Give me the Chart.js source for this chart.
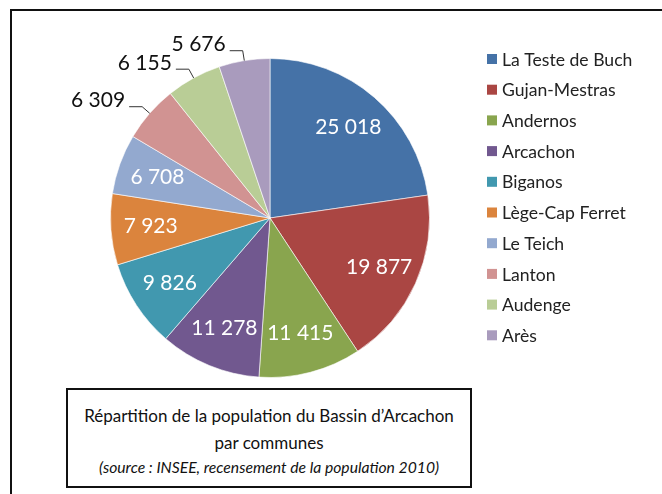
<!DOCTYPE html>
<html>
<head>
<meta charset="utf-8">
<script src="https://cdn.jsdelivr.net/npm/chart.js@4"></script>
<style>
  html, body { margin: 0; padding: 0; background: #fff; }
  #wrap { position: relative; width: 662px; height: 494px; overflow: hidden; }
  #frame { position: absolute; left: 10px; top: 9px; width: 700px; height: 520px; border: 2px solid #111; box-sizing: border-box; }
  #chart { position: absolute; left: 0; top: 0; }
  #caption {
    position: absolute; left: 66px; top: 388px; width: 406px; height: 100px;
    border: 2px solid #111; box-sizing: border-box; background: #fff;
    font-family: Lato, sans-serif; color: #111; text-align: center; white-space: nowrap;
  }
  #caption .t1 { position: absolute; left: 0; right: 0; top: 13px; font-size: 17px; line-height: 26px; }
  #caption .t2 { position: absolute; left: 0; right: 0; top: 40px; font-size: 17px; line-height: 26px; }
  #caption .t3 { position: absolute; left: 0; right: 0; top: 66px; font-size: 15.7px; line-height: 22px; font-style: italic; }
</style>
</head>
<body>
<div id="wrap">
  <div id="frame"></div>
  <canvas id="chart" width="662" height="494"></canvas>
  <div id="caption">
    <div class="t1">Répartition de la population du Bassin d’Arcachon</div>
    <div class="t2">par communes</div>
    <div class="t3">(source : INSEE, recensement de la population 2010)</div>
  </div>
</div>
<script>
var communes = ["La Teste de Buch", "Gujan-Mestras", "Andernos", "Arcachon", "Biganos",
                "Lège-Cap Ferret", "Le Teich", "Lanton", "Audenge", "Arès"];
var populations = [25018, 19877, 11415, 11278, 9826, 7923, 6708, 6309, 6155, 5676];
var sliceColors = ["#4572A7", "#AA4643", "#89A54E", "#71588F", "#4198AF",
                   "#DB843D", "#93A9CF", "#D19392", "#B9CD96", "#A99BBD"];

var FONT = "Lato, 'Open Sans', sans-serif";
var total = populations.reduce(function(a, b) { return a + b; }, 0);

function fmt(v) {
  return String(v).replace(/\B(?=(\d{3})+(?!\d))/g, " ");
}

// labels on slices + leader lines for the small ones
var sliceLabels = {
  id: "sliceLabels",
  afterDatasetsDraw: function(chart) {
    var ctx = chart.ctx;
    var meta = chart.getDatasetMeta(0);
    ctx.save();
    ctx.font = "21px " + FONT;
    meta.data.forEach(function(arc, i) {
      var p = arc.getProps(["x", "y", "startAngle", "endAngle", "outerRadius"], true);
      var mid = (p.startAngle + p.endAngle) / 2;
      var cos = Math.cos(mid), sin = Math.sin(mid);
      var txt = fmt(populations[i]);
      if (populations[i] / total >= 0.06) {
        var r = p.outerRadius * 0.75;
        ctx.fillStyle = "#fff";
        ctx.textAlign = "center";
        ctx.textBaseline = "middle";
        ctx.fillText(txt, p.x + cos * r, p.y + sin * r);
      } else {
        var ex = p.x + cos * p.outerRadius, ey = p.y + sin * p.outerRadius;
        var bx = p.x + cos * (p.outerRadius + 10), by = p.y + sin * (p.outerRadius + 10);
        ctx.strokeStyle = "#333";
        ctx.lineWidth = 1;
        ctx.beginPath();
        ctx.moveTo(ex, ey);
        ctx.lineTo(bx, by);
        ctx.lineTo(bx - 13, by);
        ctx.stroke();
        ctx.fillStyle = "#111";
        ctx.textAlign = "right";
        ctx.textBaseline = "middle";
        ctx.fillText(txt, bx - 17, by - 6);
      }
    });
    ctx.restore();
  }
};

// legend drawn at the right
var sideLegend = {
  id: "sideLegend",
  afterDraw: function(chart) {
    var ctx = chart.ctx;
    ctx.save();
    ctx.font = "17.6px " + FONT;
    ctx.textBaseline = "middle";
    ctx.textAlign = "left";
    chart.data.labels.forEach(function(lab, i) {
      var y = 59 + i * 30.7;
      ctx.fillStyle = sliceColors[i];
      ctx.fillRect(487, y - 5, 10, 10);
      ctx.fillStyle = "#222";
      ctx.fillText(lab, 502, y + 1);
    });
    ctx.restore();
  }
};

new Chart(document.getElementById("chart"), {
  type: "pie",
  data: {
    labels: communes,
    datasets: [{
      data: populations,
      backgroundColor: sliceColors,
      borderColor: "rgba(255,255,255,0.6)",
      borderWidth: 1
    }]
  },
  options: {
    responsive: false,
    animation: false,
    layout: { padding: { left: 110, right: 232, top: 58, bottom: 116 } },
    plugins: {
      legend: { display: false },
      tooltip: { enabled: false }
    }
  },
  plugins: [sliceLabels, sideLegend]
});
</script>
</body>
</html>
